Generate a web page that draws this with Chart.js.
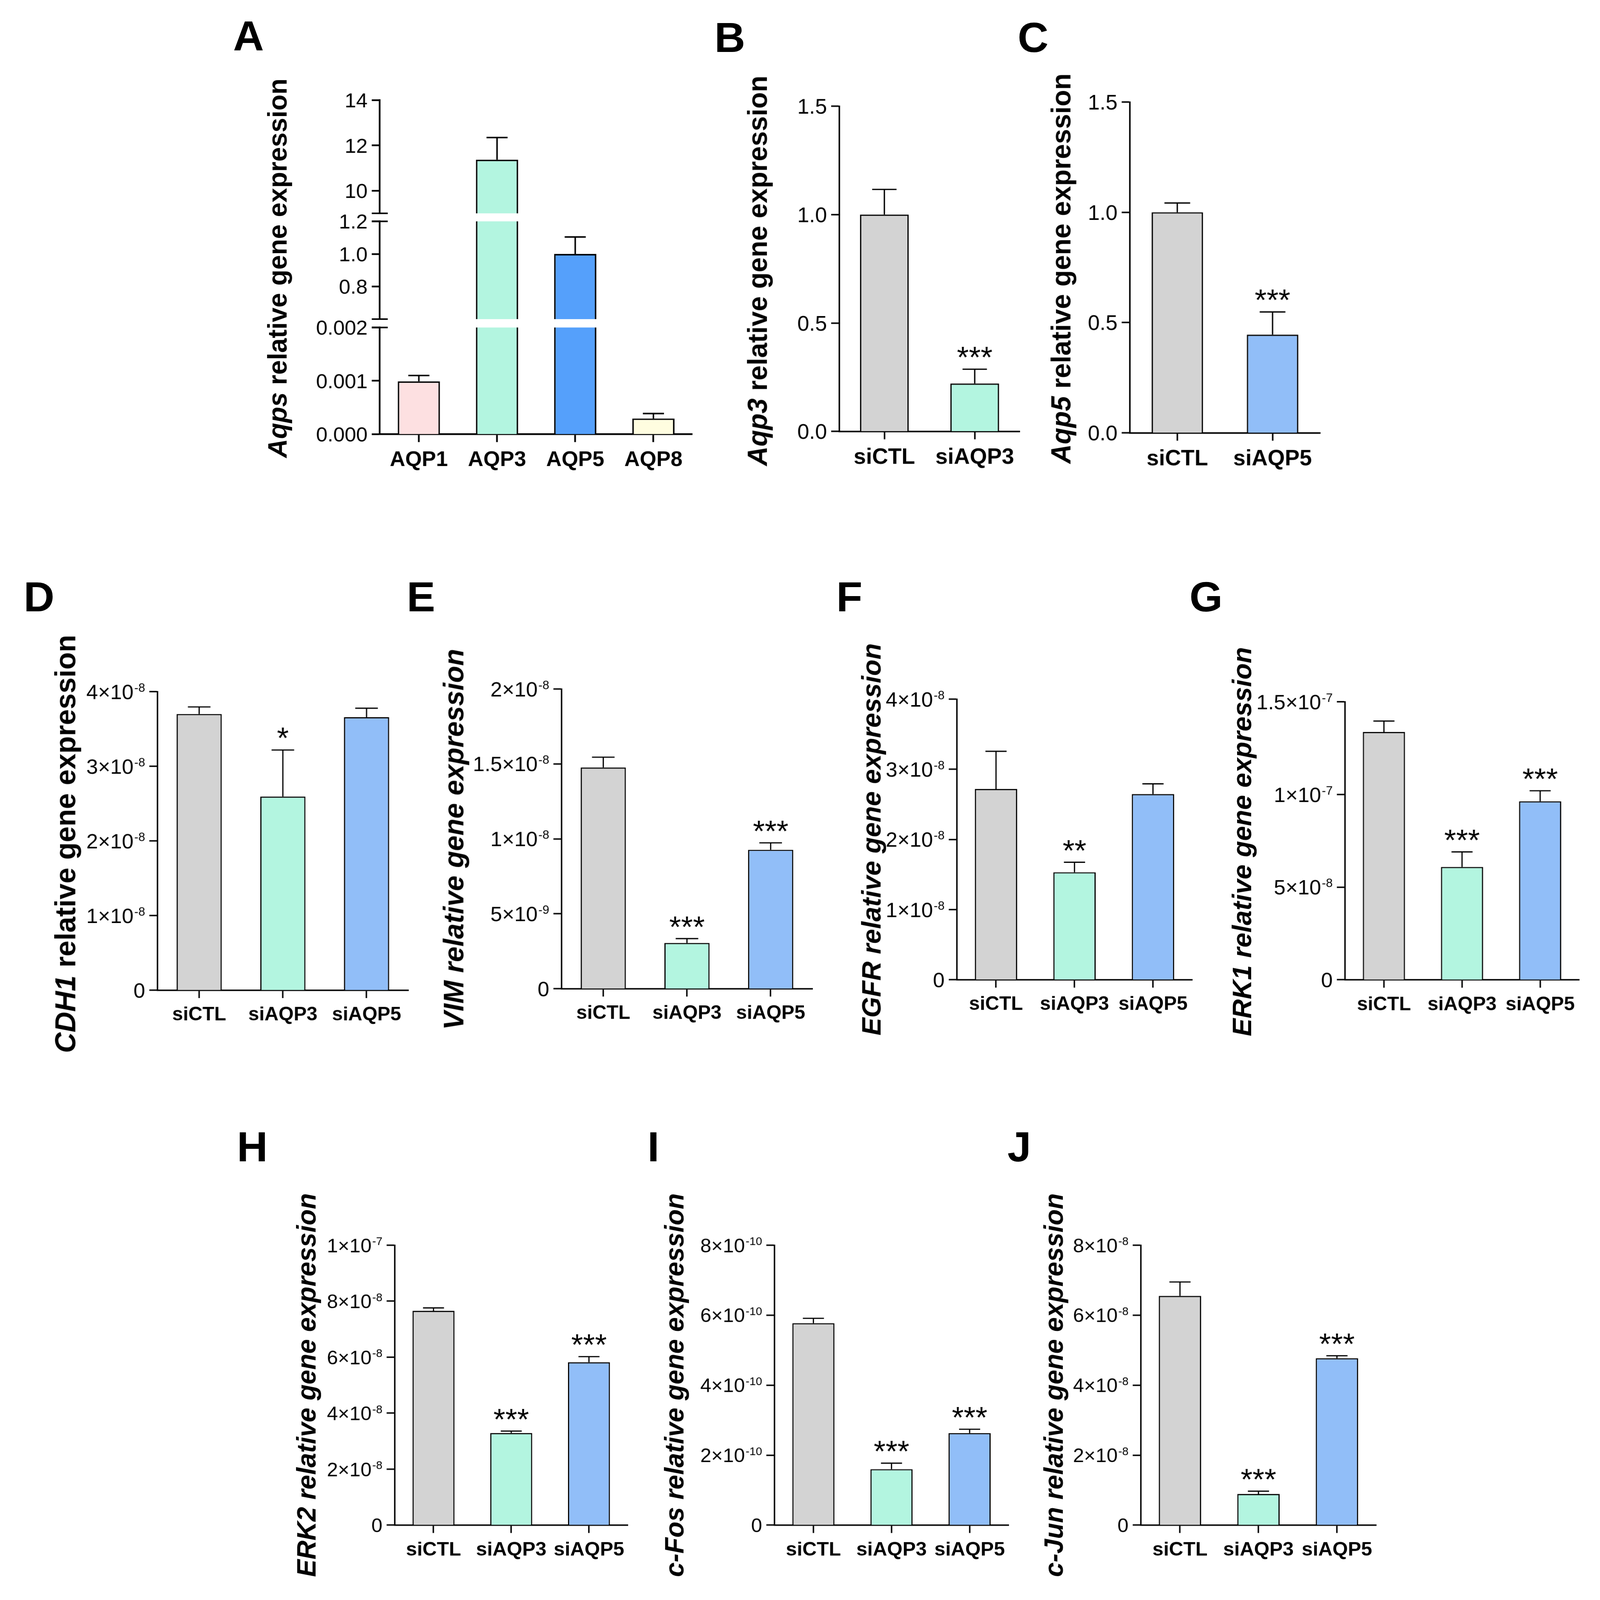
<!DOCTYPE html>
<html>
<head>
<meta charset="utf-8">
<script src="https://cdn.jsdelivr.net/npm/chart.js@4.4.0/dist/chart.umd.min.js"></script>
<style>
html, body { margin: 0; padding: 0; background: #fff; overflow: hidden; }
#fig { position: absolute; left: 0; top: 0; width: 4201px; height: 4266px; transform-origin: 0 0; font-family: "Liberation Sans", Arial, sans-serif; }
canvas { position: absolute; }
.letter { position: absolute; font-weight: bold; font-size: 112px; line-height: 1; }
.ytitle { position: absolute; font-weight: bold; white-space: nowrap; line-height: 1; transform: translate(-50%, -50%) rotate(-90deg); }
</style>
</head>
<body>
<div id="fig"></div>
<script>
// ---- data ----
const aqpGroups = ["AQP1", "AQP3", "AQP5", "AQP8"];
const aqpMean = [0.00099, 11.37, 1.0, 0.000294];
const aqpSem = [0.00011, 0.98, 0.104, 0.000094];
const aqpTicksHigh = [10, 12, 14];
const aqpTicksMid = [0.8, 1.0, 1.2];
const aqpTicksLow = [0, 0.001, 0.002];
const aqpLabelsHigh = ["10", "12", "14"];
const aqpLabelsMid = ["0.8", "1.0", "1.2"];
const aqpLabelsLow = ["0.000", "0.001", "0.002"];

const groupsB = ["siCTL", "siAQP3"];
const groupsC = ["siCTL", "siAQP5"];
const groups3 = ["siCTL", "siAQP3", "siAQP5"];

const meanB = [1.0, 0.221], semB = [0.116, 0.066], starsB = ["", "***"];
const meanC = [1.0, 0.445], semC = [0.042, 0.103], starsC = ["", "***"];
const ticksBC = [0, 0.5, 1.0, 1.5];
const labelsBC = ["0.0", "0.5", "1.0", "1.5"];

const meanD = [3.70e-8, 2.594e-8, 3.657e-8], semD = [0.095e-8, 0.624e-8, 0.121e-8], starsD = ["", "*", ""];
const ticksD = [0, 1e-8, 2e-8, 3e-8, 4e-8];
const labelsD = ["0", "1×10^-8", "2×10^-8", "3×10^-8", "4×10^-8"];

const meanE = [1.476e-8, 0.305e-8, 0.927e-8], semE = [0.069e-8, 0.029e-8, 0.046e-8], starsE = ["", "***", "***"];
const ticksE = [0, 5e-9, 1e-8, 1.5e-8, 2e-8];
const labelsE = ["0", "5×10^-9", "1×10^-8", "1.5×10^-8", "2×10^-8"];

const meanF = [2.72e-8, 1.532e-8, 2.646e-8], semF = [0.536e-8, 0.143e-8, 0.147e-8], starsF = ["", "**", ""];
const ticksF = [0, 1e-8, 2e-8, 3e-8, 4e-8];
const labelsF = ["0", "1×10^-8", "2×10^-8", "3×10^-8", "4×10^-8"];

const meanG = [1.337e-7, 0.609e-7, 0.963e-7], semG = [0.059e-7, 0.081e-7, 0.057e-7], starsG = ["", "***", "***"];
const ticksG = [0, 5e-8, 1e-7, 1.5e-7];
const labelsG = ["0", "5×10^-8", "1×10^-7", "1.5×10^-7"];

const meanH = [7.655e-8, 3.29e-8, 5.82e-8], semH = [0.105e-8, 0.07e-8, 0.2e-8], starsH = ["", "***", "***"];
const ticksH = [0, 2e-8, 4e-8, 6e-8, 8e-8, 1e-7];
const labelsH = ["0", "2×10^-8", "4×10^-8", "6×10^-8", "8×10^-8", "1×10^-7"];

const meanI = [5.77e-10, 1.60e-10, 2.63e-10], semI = [0.14e-10, 0.17e-10, 0.11e-10], starsI = ["", "***", "***"];
const ticksI = [0, 2e-10, 4e-10, 6e-10, 8e-10];
const labelsI = ["0", "2×10^-10", "4×10^-10", "6×10^-10", "8×10^-10"];

const meanJ = [6.55e-8, 0.89e-8, 4.77e-8], semJ = [0.40e-8, 0.08e-8, 0.07e-8], starsJ = ["", "***", "***"];
const ticksJ = [0, 2e-8, 4e-8, 6e-8, 8e-8];
const labelsJ = ["0", "2×10^-8", "4×10^-8", "6×10^-8", "8×10^-8"];

const GREY = "#D3D3D3", MINT = "#B3F5E0", BLUE = "#91BEF8";
const aqpColors = ["#FDE0E1", MINT, "#55A0FB", "#FFFDE0"];

const FONT = '"Liberation Sans", Arial, sans-serif';
Chart.defaults.font.family = FONT;
Chart.defaults.color = "#000";

// the figure is laid out in 4201x4266 units and stretched to fill the viewport
const fig = document.getElementById("fig");
const SX = window.innerWidth / 4201, SY = window.innerHeight / 4266;
fig.style.transform = "scale(" + SX + "," + SY + ")";
const DPR = (window.devicePixelRatio || 1) * Math.max(SX, SY);

// error bars (upper only), stars, axis-break marks and y tick labels
const errPlugin = {
  id: "errbars",
  afterDraw(chart) {
    const ctx = chart.ctx, ds = chart.data.datasets[0], meta = chart.getDatasetMeta(0);
    const y = chart.scales.y, a = chart.chartArea;
    ctx.save();
    ctx.beginPath();
    ctx.rect(a.left, a.top - 3, a.right - a.left, a.bottom - a.top + 3);
    ctx.clip();
    ctx.strokeStyle = "#000";
    ctx.lineWidth = ds.borderWidth;
    meta.data.forEach((bar, i) => {
      const y0 = y.getPixelForValue(ds.data[i]);
      const y1 = y.getPixelForValue(ds.data[i] + ds.sem[i]);
      const hw = bar.width / 4;
      ctx.beginPath();
      ctx.moveTo(bar.x, y0); ctx.lineTo(bar.x, y1);
      ctx.moveTo(bar.x - hw, y1); ctx.lineTo(bar.x + hw, y1);
      ctx.stroke();
    });
    ctx.restore();

    ctx.save();
    ctx.fillStyle = "#000";
    ctx.font = ds.starSize + "px " + FONT;
    ctx.textAlign = "center";
    ctx.textBaseline = "alphabetic";
    meta.data.forEach((bar, i) => {
      if (!ds.stars || !ds.stars[i]) return;
      const y1 = y.getPixelForValue(ds.data[i] + ds.sem[i]);
      ctx.fillText(ds.stars[i], bar.x, y1 - 4);
    });

    ctx.strokeStyle = "#000";
    ctx.lineWidth = ds.borderWidth;
    const marks = [];
    if (ds.breakTop) marks.push(a.top);
    if (ds.breakBottom) marks.push(a.bottom);
    marks.forEach(py => {
      ctx.beginPath();
      ctx.moveTo(a.left - 21, py); ctx.lineTo(a.left + 21, py);
      ctx.stroke();
    });

    // y tick labels, exponent written as a raised smaller part
    const f = ds.tickSize, fe = Math.round(f * 0.58);
    const xr = a.left - 21 - 11;
    ctx.textAlign = "right";
    ds.yTicks.forEach((v, i) => {
      const py = y.getPixelForValue(v);
      const parts = ds.yLabels[i].split("^");
      const capTop = py - 0.716 * f / 2;
      let x = xr;
      if (parts[1]) {
        ctx.font = fe + "px " + FONT;
        ctx.fillText(parts[1], x, capTop - 3 + 0.716 * fe);
        x -= ctx.measureText(parts[1]).width + 2;
      }
      ctx.font = f + "px " + FONT;
      ctx.fillText(parts[0], x, py + 0.716 * f / 2);
    });
    ctx.restore();
  }
};

function panel(o) {
  const YW = 260, PT = 60, PR = 30;
  const showX = o.showX !== false;
  const XH = showX ? 140 : 0, PB = showX ? 0 : 45;
  const w = o.right - o.left + YW + PR;
  const h = o.bottom - o.top + PT + XH + PB;
  const cv = document.createElement("canvas");
  cv.style.left = (o.left - YW) + "px";
  cv.style.top = (o.top - PT) + "px";
  cv.style.width = w + "px"; cv.style.height = h + "px";
  cv.width = w; cv.height = h;
  fig.appendChild(cv);
  new Chart(cv, {
    type: "bar",
    data: {
      labels: o.labels,
      datasets: [{
        data: o.values,
        sem: o.sem,
        stars: o.stars,
        starSize: o.starSize || 80,
        tickSize: o.tickSize,
        yTicks: o.ticks,
        yLabels: o.tickLabels,
        breakTop: o.breakTop,
        breakBottom: o.breakBottom,
        backgroundColor: o.colors,
        borderColor: "#000",
        borderWidth: o.bw,
        borderSkipped: "start",
        barPercentage: 0.54,
        categoryPercentage: 1,
        clip: 0
      }]
    },
    options: {
      responsive: false,
      devicePixelRatio: DPR,
      animation: false,
      layout: { padding: { left: 0, right: PR, top: PT, bottom: PB } },
      plugins: { legend: { display: false }, title: { display: false }, tooltip: { enabled: false } },
      scales: {
        x: {
          display: showX,
          afterFit: s => { s.height = XH; },
          ticks: { font: { size: o.xSize, weight: "bold" }, color: "#000", padding: 15, maxRotation: 0, autoSkip: false },
          grid: { offset: false, drawOnChartArea: false, tickLength: 21, tickWidth: o.aw, tickColor: "#000" },
          border: { display: true, color: "#000", width: o.aw }
        },
        y: {
          min: o.min, max: o.max,
          afterBuildTicks: s => { s.ticks = o.ticks.map(v => ({ value: v })); },
          afterFit: s => { s.width = YW; },
          ticks: { display: false },
          grid: { drawOnChartArea: false, tickLength: 21, tickWidth: o.aw, tickColor: "#000" },
          border: { display: true, color: "#000", width: o.aw }
        }
      }
    },
    plugins: [errPlugin]
  });
}

function letter(t, x, y) {
  const d = document.createElement("div");
  d.className = "letter";
  d.textContent = t;
  d.style.left = x + "px";
  d.style.top = (y - 15) + "px";
  fig.appendChild(d);
}

function ytitle(html, cx, cy, size) {
  const d = document.createElement("div");
  d.className = "ytitle";
  d.innerHTML = html;
  d.style.left = cx + "px";
  d.style.top = cy + "px";
  d.style.fontSize = size + "px";
  fig.appendChild(d);
}

// ---- panel A: broken axis, three stacked segments ----
const aBase = { labels: aqpGroups, values: aqpMean, sem: aqpSem, colors: aqpColors, left: 997, right: 1818, bw: 4, aw: 4.5, tickSize: 54, xSize: 56, starSize: 80 };
panel(Object.assign({}, aBase, { top: 267, bottom: 568, min: 9, max: 14, ticks: aqpTicksHigh, tickLabels: aqpLabelsHigh, showX: false, breakBottom: true }));
panel(Object.assign({}, aBase, { top: 590, bottom: 850, min: 0.6, max: 1.2, ticks: aqpTicksMid, tickLabels: aqpLabelsMid, showX: false, breakTop: true, breakBottom: true }));
panel(Object.assign({}, aBase, { top: 873, bottom: 1157, min: 0, max: 0.002, ticks: aqpTicksLow, tickLabels: aqpLabelsLow, breakTop: true }));

// ---- panels B, C ----
panel({ labels: groupsB, values: meanB, sem: semB, stars: starsB, colors: [GREY, MINT], left: 2203, right: 2677, top: 283, bottom: 1150,
  min: 0, max: 1.5, ticks: ticksBC, tickLabels: labelsBC, bw: 3.5, aw: 4, tickSize: 56, xSize: 58, starSize: 80 });
panel({ labels: groupsC, values: meanC, sem: semC, stars: starsC, colors: [GREY, BLUE], left: 2966, right: 3466, top: 272, bottom: 1154,
  min: 0, max: 1.5, ticks: ticksBC, tickLabels: labelsBC, bw: 3.5, aw: 4, tickSize: 56, xSize: 58, starSize: 80 });

// ---- panels D-G ----
const row = { labels: groups3, colors: [GREY, MINT, BLUE], bw: 3.2, aw: 3.8, tickSize: 55, xSize: 51, min: 0 };
panel(Object.assign({}, row, { values: meanD, sem: semD, stars: starsD, left: 413, right: 1072, top: 1844, bottom: 2640, max: 4e-8, ticks: ticksD, tickLabels: labelsD }));
panel(Object.assign({}, row, { values: meanE, sem: semE, stars: starsE, left: 1474, right: 2133, top: 1837, bottom: 2636, max: 2e-8, ticks: ticksE, tickLabels: labelsE }));
panel(Object.assign({}, row, { values: meanF, sem: semF, stars: starsF, left: 2512, right: 3130, top: 1864, bottom: 2612, max: 4e-8, ticks: ticksF, tickLabels: labelsF }));
panel(Object.assign({}, row, { values: meanG, sem: semG, stars: starsG, left: 3531, right: 4146, top: 1871, bottom: 2612, max: 1.5e-7, ticks: ticksG, tickLabels: labelsG }));

// ---- panels H-J ----
const row3 = Object.assign({}, row, { xSize: 52, tickSize: 52 });
panel(Object.assign({}, row3, { values: meanH, sem: semH, stars: starsH, left: 1036, right: 1648, top: 3320, bottom: 4066, max: 1e-7, ticks: ticksH, tickLabels: labelsH }));
panel(Object.assign({}, row3, { values: meanI, sem: semI, stars: starsI, left: 2033, right: 2648, top: 3320, bottom: 4066, max: 8e-10, ticks: ticksI, tickLabels: labelsI }));
panel(Object.assign({}, row3, { values: meanJ, sem: semJ, stars: starsJ, left: 2995, right: 3613, top: 3320, bottom: 4066, max: 8e-8, ticks: ticksJ, tickLabels: labelsJ }));

// ---- panel letters and axis titles ----
letter("A", 612, 55); letter("B", 1876, 60); letter("C", 2672, 60);
letter("D", 62, 1551); letter("E", 1068, 1551); letter("F", 2196, 1551); letter("G", 3123, 1551);
letter("H", 622, 3017); letter("I", 1700, 3017); letter("J", 2645, 3017);

ytitle("<i>Aqps</i> relative gene expression", 729, 715, 70);
ytitle("<i>Aqp3</i> relative gene expression", 1989, 722, 72);
ytitle("<i>Aqp5</i> relative gene expression", 2786, 716, 72);
ytitle("<i>CDH1</i> relative gene expression", 172, 2250, 76);
ytitle("<i>VIM relative gene expression</i>", 1192, 2238, 74);
ytitle("<i>EGFR relative gene expression</i>", 2288, 2238, 71);
ytitle("<i>ERK1 relative gene expression</i>", 3261, 2244, 71);
ytitle("<i>ERK2 relative gene expression</i>", 805, 3693, 70);
ytitle("<i>c-Fos relative gene expression</i>", 1771, 3693, 70);
ytitle("<i>c-Jun relative gene expression</i>", 2767, 3693, 70);
</script>
</body>
</html>
